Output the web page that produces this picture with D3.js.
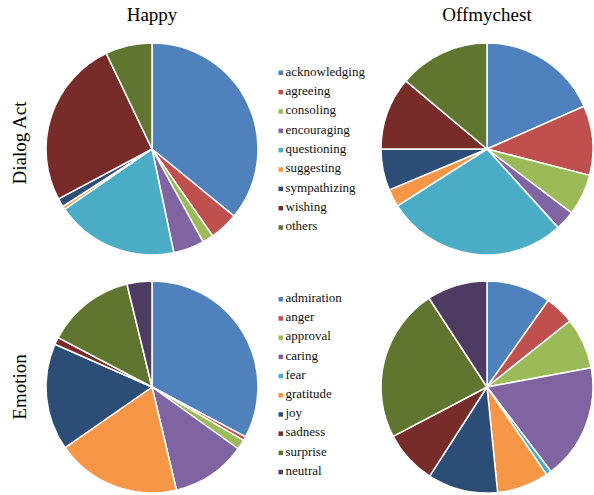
<!DOCTYPE html>
<html><head><meta charset="utf-8">
<script src="https://cdn.jsdelivr.net/npm/d3@7"></script>
<style>body{margin:0;background:#fff}svg{display:block}text{font-family:"Liberation Serif","Times New Roman",serif}</style>
</head><body>
<svg id="c" width="594" height="495"></svg>
<script>
const columns = ["Happy", "Offmychest"];
const rows = ["Dialog Act", "Emotion"];
const dialogActs = ["acknowledging","agreeing","consoling","encouraging","questioning","suggesting","sympathizing","wishing","others"];
const dialogHappy = [35.9, 4.4, 1.7, 4.7, 18.7, 0.5, 1.3, 25.7, 7.1];
const dialogOff = [18.4, 10.6, 6.3, 3.0, 27.7, 2.7, 6.3, 11.1, 13.9];
const emotions = ["admiration","anger","approval","caring","fear","gratitude","joy","sadness","surprise","neutral"];
const emoHappy = [32.8, 0.6, 1.5, 11.4, 0.0, 19.0, 16.3, 1.1, 13.5, 3.8];
const emoOff = [9.8, 4.5, 7.8, 17.6, 0.8, 7.9, 10.7, 8.2, 23.5, 9.2];
const palette = ["#4F81BD","#C0504D","#9BBB59","#8064A2","#4BACC6","#F79646","#2C4D75","#772C2A","#5F7530","#4D3B62"];

const svg = d3.select("#c");
const colX = d3.scalePoint().domain(columns).range([152, 487]);
const rowY = d3.scalePoint().domain(rows).range([149, 387]);
const rowLabelY = d3.scalePoint().domain(rows).range([143, 387]);
const R = 106;
const pie = d3.pie().sort(null).value(d => d);
const arc = d3.arc().innerRadius(0).outerRadius(R);

const panels = [
  {col: "Happy", row: "Dialog Act", vals: dialogHappy},
  {col: "Offmychest", row: "Dialog Act", vals: dialogOff},
  {col: "Happy", row: "Emotion", vals: emoHappy},
  {col: "Offmychest", row: "Emotion", vals: emoOff}
];
panels.forEach(p => {
  const g = svg.append("g").attr("transform", `translate(${colX(p.col)},${rowY(p.row)})`);
  g.selectAll("path").data(pie(p.vals)).enter().append("path")
    .attr("d", arc).attr("fill", (d, i) => palette[i])
    .attr("stroke", "#fff").attr("stroke-width", 1.5).attr("stroke-linejoin", "round");
});

columns.forEach(c => svg.append("text").attr("x", colX(c)).attr("y", 21)
  .attr("text-anchor", "middle").attr("font-size", 19).text(c));
rows.forEach(r => svg.append("text")
  .attr("transform", `translate(26,${rowLabelY(r)}) rotate(-90)`)
  .attr("text-anchor", "middle").attr("font-size", 19).text(r));

function legend(names, baseline0, step) {
  const g = svg.append("g");
  const y = d3.scaleLinear().domain([0, 1]).range([baseline0, baseline0 + step]);
  names.forEach((n, i) => {
    g.append("rect").attr("x", 278.5).attr("y", y(i) - 5).attr("width", 4.5).attr("height", 4.5).attr("fill", palette[i]);
    g.append("text").attr("x", 285.5).attr("y", y(i)).attr("font-size", 13).attr("fill", "#111").text(n);
  });
}
legend(dialogActs, 75.5, 19.35);
legend(emotions, 302, 19.2);
</script>
</body></html>
